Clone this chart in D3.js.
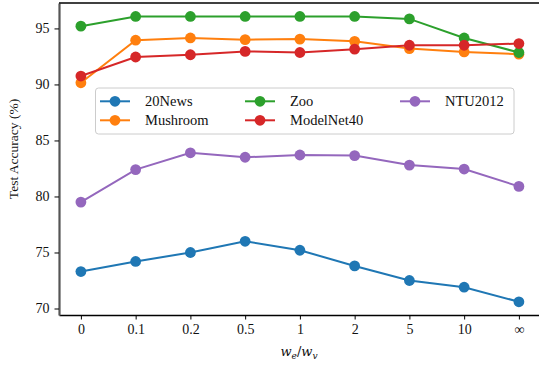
<!DOCTYPE html>
<html><head><meta charset="utf-8">
<script src="https://cdn.jsdelivr.net/npm/d3@7"></script>
<style>body{margin:0;background:#fff}svg{display:block}
svg text{font-family:"Liberation Serif","Times New Roman",serif !important;}
svg text.math{font-family:"DejaVu Serif",serif !important;}
</style>
</head><body>
<svg id="c" width="539" height="367"></svg>
<script>
const categories = ["0","0.1","0.2","0.5","1","2","5","10","∞"];
const news20 = [73.3, 74.2, 75.0, 76.0, 75.2, 73.8, 72.5, 71.9, 70.6];
const mushroom = [90.15, 93.95, 94.15, 94.0, 94.05, 93.85, 93.2, 92.9, 92.7];
const zoo = [95.2, 96.07, 96.07, 96.07, 96.07, 96.07, 95.85, 94.15, 92.85];
const modelnet40 = [90.75, 92.45, 92.65, 92.95, 92.85, 93.15, 93.5, 93.5, 93.65];
const ntu2012 = [79.5, 82.4, 83.9, 83.5, 83.7, 83.65, 82.8, 82.45, 80.9];
const seriesNames = ["20News","Mushroom","Zoo","ModelNet40","NTU2012"];
const seriesData = [news20, mushroom, zoo, modelnet40, ntu2012];
const colors = ["#1f77b4","#ff7f0e","#2ca02c","#d62728","#9467bd"];
const yTicks = [70,75,80,85,90,95];

const svg = d3.select("#c");
const L = 59, R = 540.8, T = 3, B = 315;
const x = d3.scaleLinear().domain([-0.4, categories.length - 1 + 0.4]).range([L, R]);
const y = d3.scaleLinear().domain([69.42, 97.27]).range([B, T]);

const xAxis = d3.axisBottom(x).tickValues(d3.range(categories.length)).tickFormat(i => categories[i]).tickSize(4.5).tickPadding(5).tickSizeOuter(0);
const gx = svg.append("g").attr("transform", `translate(0,${B})`).call(xAxis);
gx.select(".domain").attr("stroke","#000").attr("stroke-width",1.4);
gx.selectAll(".tick line").attr("stroke","#000").attr("stroke-width",1);
gx.selectAll(".tick text").attr("font-size",14).attr("fill","#111");

const yAxis = d3.axisLeft(y).tickValues(yTicks).tickSize(4.5).tickPadding(5).tickSizeOuter(0);
const gy = svg.append("g").attr("transform", `translate(${L},0)`).call(yAxis);
gy.select(".domain").attr("stroke","#555").attr("stroke-width",2.2);
gy.selectAll(".tick line").attr("stroke","#000").attr("stroke-width",1);
gy.selectAll(".tick text").attr("font-size",14).attr("fill","#111");

svg.append("line").attr("x1",L).attr("x2",539).attr("y1",T).attr("y2",T).attr("stroke","#000").attr("stroke-width",1.4);

const line = d3.line().x((d,i)=>x(i)).y(d=>y(d));
seriesData.forEach((s,k)=>{
  const g = svg.append("g");
  g.append("path").datum(s).attr("d",line).attr("fill","none").attr("stroke",colors[k]).attr("stroke-width",2);
  g.selectAll("circle").data(s).join("circle").attr("cx",(d,i)=>x(i)).attr("cy",d=>y(d)).attr("r",5.4).attr("fill",colors[k]);
});

const lg = svg.append("g");
lg.append("rect").attr("x",95.5).attr("y",88).attr("width",418.5).attr("height",46).attr("rx",3)
  .attr("fill","#fff").attr("fill-opacity",0.85).attr("stroke","#cccccc").attr("stroke-width",1);
const colX = [100, 245, 400];
const rowY = [101.3, 120.3];
seriesNames.forEach((n,k)=>{
  const c = Math.floor(k/2), r = k%2;
  const hx = colX[c], hy = rowY[r];
  lg.append("line").attr("x1",hx).attr("x2",hx+30).attr("y1",hy).attr("y2",hy).attr("stroke",colors[k]).attr("stroke-width",2);
  lg.append("circle").attr("cx",hx+15).attr("cy",hy).attr("r",5.4).attr("fill",colors[k]);
  lg.append("text").attr("x",hx+45).attr("y",hy).attr("dy","0.35em").attr("font-size",14.5).attr("fill","#111").text(n);
});

svg.append("text").attr("transform","translate(18,149) rotate(-90)").attr("text-anchor","middle")
  .attr("font-size",13.5).attr("fill","#111").text("Test Accuracy (%)");
const xl = svg.append("text").attr("class","math").attr("x",299).attr("y",356).attr("text-anchor","middle")
  .attr("font-size",13).attr("fill","#111");
xl.append("tspan").attr("font-style","italic").text("w");
xl.append("tspan").attr("font-style","italic").attr("font-size",9).attr("dy",3).text("e");
xl.append("tspan").attr("dy",-3).text("/");
xl.append("tspan").attr("font-style","italic").text("w");
xl.append("tspan").attr("font-style","italic").attr("font-size",9).attr("dy",3).text("v");
</script>
</body></html>
